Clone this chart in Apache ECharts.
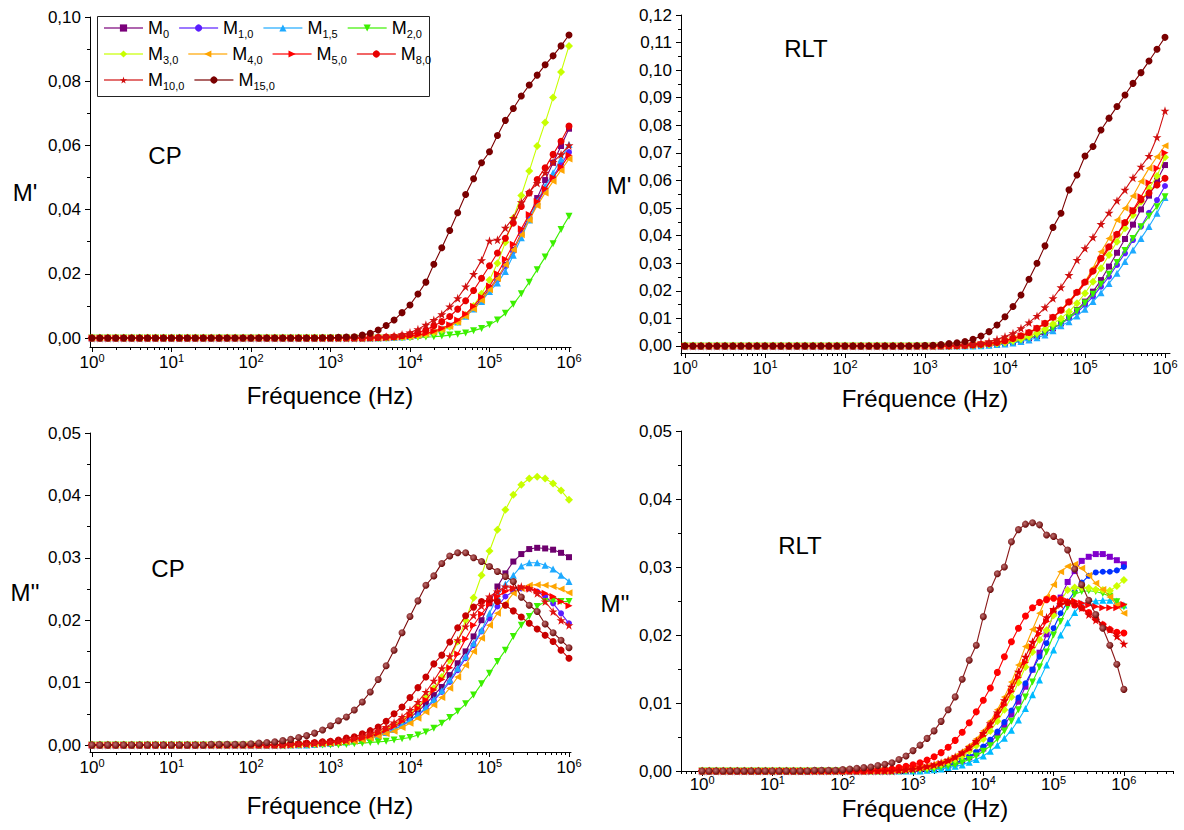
<!DOCTYPE html>
<html><head><meta charset="utf-8">
<script src="https://cdn.jsdelivr.net/npm/echarts@6/dist/echarts.min.js"></script>
<style>html,body{margin:0;padding:0;background:#fff}#c{width:1184px;height:830px}</style>
</head><body><div id="c"></div>
<script>
// ---------------- DATA ----------------
const FREQ = [1,1.259,1.585,1.995,2.512,3.162,3.981,5.012,6.31,7.943,
10,12.59,15.85,19.95,25.12,31.62,39.81,50.12,63.1,79.43,
100,125.9,158.5,199.5,251.2,316.2,398.1,501.2,631,794.3,
1000,1259,1585,1995,2512,3162,3981,5012,6310,7943,
10000,12590,15850,19950,25120,31620,39810,50120,63100,79430,
100000,125900,158500,199500,251200,316200,398100,501200,631000,794300,1000000];

const SERIES_NAMES = ['M0','M1,0','M1,5','M2,0','M3,0','M4,0','M5,0','M8,0','M10,0','M15,0'];

const X_LABELS = [1,10,100,1000,10000,100000,1000000];
const X_MINOR = [0.5,0.6,0.7,0.8,0.9,2,3,4,5,6,7,8,9,20,30,40,50,60,70,80,90,
200,300,400,500,600,700,800,900,2000,3000,4000,5000,6000,7000,8000,9000,
20000,30000,40000,50000,60000,70000,80000,90000,200000,300000,400000,500000,600000,700000,800000,900000,
2000000,3000000,4000000,5000000];
const Y_LABELS_1 = [0,0.02,0.04,0.06,0.08,0.10];
const Y_MINOR_1 = [0.01,0.03,0.05,0.07,0.09];
const Y_LABELS_2 = [0,0.01,0.02,0.03,0.04,0.05,0.06,0.07,0.08,0.09,0.10,0.11,0.12];
const Y_MINOR_2 = [0.005,0.015,0.025,0.035,0.045,0.055,0.065,0.075,0.085,0.095,0.105,0.115];
const Y_LABELS_34 = [0,0.01,0.02,0.03,0.04,0.05];
const Y_MINOR_34 = [0.005,0.015,0.025,0.035,0.045];

// Panel 1 : M' (CP)
const cpRe_M0 = [0,0,0,0,0,0,0,0,0,0, 0,0,0,0,0,0,0,0,0,0, 0,0,0,0,0,0,0,0,0,0,
0,0,0,0,0,0,0,0.0001,0.0002,0.0003,
0.0005,0.0008,0.0012,0.0018,0.0027,0.0038,0.0051,0.0070,0.0093,0.0121,
0.0155,0.0186,0.0228,0.0275,0.0327,0.0379,0.0436,0.0492,0.0546,0.0598,0.0652];
const cpRe_M1_0 = [0,0,0,0,0,0,0,0,0,0, 0,0,0,0,0,0,0,0,0,0, 0,0,0,0,0,0,0,0,0,0,
0,0,0,0,0,0,0,0.0001,0.0002,0.0003,
0.0005,0.0008,0.0013,0.0019,0.0027,0.0038,0.0051,0.0069,0.0091,0.0117,
0.0150,0.0181,0.0223,0.0270,0.0322,0.0371,0.0418,0.0463,0.0504,0.0541,0.0579];
const cpRe_M1_5 = [0,0,0,0,0,0,0,0,0,0, 0,0,0,0,0,0,0,0,0,0, 0,0,0,0,0,0,0,0,0,0,
0,0,0,0,0,0,0,0.0001,0.0002,0.0003,
0.0005,0.0008,0.0013,0.0019,0.0027,0.0038,0.0050,0.0068,0.0090,0.0114,
0.0145,0.0171,0.0207,0.0258,0.0312,0.0368,0.0426,0.0473,0.0515,0.0558,0.0603];
const cpRe_M2_0 = [0,0,0,0,0,0,0,0,0,0, 0,0,0,0,0,0,0,0,0,0, 0,0,0,0,0,0,0,0,0,0,
0,0,0,0,0,0,0,0,0.0001,0.0001,
0.0001,0.0002,0.0003,0.0004,0.0006,0.0009,0.0012,0.0016,0.0023,0.0030,
0.0041,0.0056,0.0077,0.0105,0.0138,0.0174,0.0213,0.0252,0.0294,0.0338,0.0379];
const cpRe_M3_0 = [0,0,0,0,0,0,0,0,0,0, 0,0,0,0,0,0,0,0,0,0, 0,0,0,0,0,0,0,0,0,0,
0,0,0,0,0,0,0,0.0001,0.0002,0.0003,
0.0004,0.0007,0.0011,0.0017,0.0025,0.0035,0.0051,0.0072,0.0100,0.0138,
0.0181,0.0233,0.0298,0.0374,0.0444,0.0520,0.0598,0.0671,0.0749,0.0829,0.0910];
const cpRe_M4_0 = [0,0,0,0,0,0,0,0,0,0, 0,0,0,0,0,0,0,0,0,0, 0,0,0,0,0,0,0,0,0,0,
0,0,0,0,0,0,0,0.0001,0.0002,0.0003,
0.0005,0.0008,0.0013,0.0019,0.0027,0.0037,0.0050,0.0068,0.0090,0.0117,
0.0150,0.0185,0.0228,0.0275,0.0322,0.0368,0.0412,0.0452,0.0488,0.0522,0.0558];
const cpRe_M5_0 = [0,0,0,0,0,0,0,0,0,0, 0,0,0,0,0,0,0,0,0,0, 0,0,0,0,0,0,0,0,0,0,
0,0,0,0,0,0,0,0.0001,0.0002,0.0004,
0.0006,0.0009,0.0014,0.0021,0.0030,0.0041,0.0056,0.0075,0.0099,0.0128,
0.0162,0.0200,0.0245,0.0292,0.0340,0.0385,0.0425,0.0465,0.0500,0.0533,0.0569];
const cpRe_M8_0 = [0,0,0,0,0,0,0,0,0,0, 0,0,0,0,0,0,0,0,0,0, 0,0,0,0,0,0,0,0,0,0,
0,0,0,0,0,0.0001,0.0002,0.0003,0.0004,0.0007,
0.0011,0.0017,0.0025,0.0038,0.0051,0.0067,0.0090,0.0116,0.0148,0.0186,
0.0225,0.0265,0.0311,0.0358,0.0410,0.0452,0.0494,0.0530,0.0572,0.0613,0.0660];
const cpRe_M10_0 = [0,0,0,0,0,0,0,0,0,0, 0,0,0,0,0,0,0,0,0,0, 0,0,0,0,0,0,0,0,0,0,
0,0,0,0,0,0.0001,0.0002,0.0004,0.0007,0.0011,
0.0017,0.0027,0.0041,0.0056,0.0074,0.0098,0.0124,0.0160,0.0199,0.0242,
0.0303,0.0306,0.0343,0.0374,0.0423,0.0454,0.0483,0.0515,0.0548,0.0572,0.0600];
const cpRe_M15_0 = [0,0,0,0,0,0,0,0,0,0, 0,0,0,0,0,0,0,0,0,0,
0,0,0,0,0,0,0,0,0,0.0001,
0.0001,0.0002,0.0003,0.0004,0.0009,0.0015,0.0025,0.0039,0.0056,0.0079,
0.0103,0.0137,0.0174,0.0230,0.0281,0.0335,0.0390,0.0447,0.0496,0.0546,
0.0580,0.0631,0.0678,0.0715,0.0754,0.0788,0.0819,0.0851,0.0879,0.0910,0.0944];

// Panel 2 : M' (RLT)
const rltRe_M0 = [0,0,0,0,0,0,0,0,0,0, 0,0,0,0,0,0,0,0,0,0, 0,0,0,0,0,0,0,0,0,0,
0,0,0,0,0,0,0.0001,0.0002,0.0004,0.0006,
0.0009,0.0014,0.0020,0.0028,0.0036,0.0048,0.0064,0.0082,0.0104,0.0131,
0.0161,0.0197,0.0239,0.0288,0.0338,0.0388,0.0440,0.0495,0.0545,0.0600,0.0656];
const rltRe_M1_0 = [0,0,0,0,0,0,0,0,0,0, 0,0,0,0,0,0,0,0,0,0, 0,0,0,0,0,0,0,0,0,0,
0,0,0,0,0,0,0.0001,0.0002,0.0004,0.0007,
0.0010,0.0015,0.0021,0.0029,0.0038,0.0050,0.0064,0.0080,0.0100,0.0121,
0.0149,0.0179,0.0215,0.0251,0.0294,0.0336,0.0384,0.0433,0.0483,0.0529,0.0580];
const rltRe_M1_5 = [0,0,0,0,0,0,0,0,0,0, 0,0,0,0,0,0,0,0,0,0, 0,0,0,0,0,0,0,0,0,0,
0,0,0,0,0,0,0,0.0001,0.0003,0.0005,
0.0007,0.0011,0.0016,0.0022,0.0030,0.0040,0.0055,0.0073,0.0088,0.0109,
0.0133,0.0161,0.0193,0.0227,0.0264,0.0306,0.0348,0.0390,0.0433,0.0481,0.0538];
const rltRe_M2_0 = [0,0,0,0,0,0,0,0,0,0, 0,0,0,0,0,0,0,0,0,0, 0,0,0,0,0,0,0,0,0,0,
0,0,0,0,0,0,0,0.0002,0.0004,0.0007,
0.0010,0.0015,0.0021,0.0029,0.0039,0.0051,0.0065,0.0082,0.0102,0.0127,
0.0156,0.0188,0.0224,0.0260,0.0303,0.0346,0.0390,0.0432,0.0470,0.0505,0.0541];
const rltRe_M3_0 = [0,0,0,0,0,0,0,0,0,0, 0,0,0,0,0,0,0,0,0,0, 0,0,0,0,0,0,0,0,0,0,
0,0,0,0,0,0.0001,0.0002,0.0004,0.0006,0.0009,
0.0013,0.0019,0.0025,0.0034,0.0046,0.0061,0.0080,0.0100,0.0124,0.0155,
0.0191,0.0233,0.0282,0.0330,0.0378,0.0427,0.0475,0.0523,0.0572,0.0616,0.0684];
const rltRe_M4_0 = [0,0,0,0,0,0,0,0,0,0, 0,0,0,0,0,0,0,0,0,0, 0,0,0,0,0,0,0,0,0,0,
0,0,0,0,0.0001,0.0002,0.0004,0.0006,0.0009,0.0013,
0.0019,0.0028,0.0036,0.0048,0.0064,0.0082,0.0103,0.0131,0.0161,0.0197,
0.0233,0.0282,0.0342,0.0390,0.0457,0.0499,0.0544,0.0596,0.0644,0.0686,0.0726];
const rltRe_M5_0 = [0,0,0,0,0,0,0,0,0,0, 0,0,0,0,0,0,0,0,0,0, 0,0,0,0,0,0,0,0,0,0,
0,0,0,0,0.0001,0.0002,0.0004,0.0006,0.0009,0.0013,
0.0019,0.0027,0.0036,0.0048,0.0064,0.0082,0.0103,0.0128,0.0157,0.0191,
0.0227,0.0266,0.0312,0.0354,0.0402,0.0445,0.0493,0.0541,0.0592,0.0644,0.0701];
const rltRe_M8_0 = [0,0,0,0,0,0,0,0,0,0, 0,0,0,0,0,0,0,0,0,0, 0,0,0,0,0,0,0,0,0,0,
0,0,0,0,0.0001,0.0002,0.0004,0.0006,0.0009,0.0013,
0.0019,0.0027,0.0037,0.0049,0.0064,0.0082,0.0104,0.0130,0.0160,0.0195,
0.0232,0.0272,0.0318,0.0360,0.0405,0.0448,0.0490,0.0530,0.0555,0.0584,0.0608];
const rltRe_M10_0 = [0,0,0,0,0,0,0,0,0,0, 0,0,0,0,0,0,0,0,0,0, 0,0,0,0,0,0,0,0,0,0,
0,0,0.0001,0.0002,0.0003,0.0005,0.0007,0.0011,0.0016,0.0024,
0.0034,0.0046,0.0064,0.0085,0.0109,0.0140,0.0173,0.0213,0.0257,0.0312,
0.0354,0.0394,0.0442,0.0483,0.0527,0.0566,0.0610,0.0650,0.0689,0.0757,0.0853];
const rltRe_M15_0 = [0,0,0,0,0,0,0,0,0,0, 0,0,0,0,0,0,0,0,0,0,
0,0,0,0,0,0,0,0,0,0.0001,
0.0002,0.0003,0.0005,0.0009,0.0012,0.0016,0.0024,0.0036,0.0052,0.0076,
0.0106,0.0143,0.0185,0.0242,0.0300,0.0363,0.0430,0.0481,0.0566,0.0620,
0.0689,0.0723,0.0783,0.0826,0.0868,0.0910,0.0952,0.0991,0.1033,0.1076,0.1119];

// Panel 3 : M'' (CP)
const cpIm_M0 = [0,0,0,0,0,0,0,0,0,0, 0,0,0,0,0,0,0,0,0,0,
0,0,0,0,0,0,0,0.0001,0.0002,0.0002,
0.0003,0.0004,0.0006,0.0008,0.0010,0.0013,0.0017,0.0022,0.0028,0.0035,
0.0044,0.0054,0.0066,0.0080,0.0093,0.0112,0.0131,0.0150,0.0174,0.0200,
0.0227,0.0254,0.0275,0.0294,0.0306,0.0314,0.0316,0.0315,0.0313,0.0308,0.0301];
const cpIm_M1_0 = [0,0,0,0,0,0,0,0,0,0, 0,0,0,0,0,0,0,0,0,0,
0,0,0,0,0,0,0,0,0.0001,0.0002,
0.0003,0.0004,0.0005,0.0007,0.0009,0.0011,0.0015,0.0019,0.0025,0.0031,
0.0039,0.0048,0.0058,0.0071,0.0085,0.0101,0.0120,0.0139,0.0160,0.0182,
0.0203,0.0222,0.0238,0.0246,0.0251,0.0251,0.0246,0.0238,0.0227,0.0211,0.0195];
const cpIm_M1_5 = [0,0,0,0,0,0,0,0,0,0, 0,0,0,0,0,0,0,0,0,0,
0,0,0,0,0,0,0,0,0.0001,0.0002,
0.0003,0.0004,0.0005,0.0007,0.0009,0.0012,0.0015,0.0020,0.0025,0.0032,
0.0040,0.0049,0.0060,0.0073,0.0087,0.0104,0.0123,0.0142,0.0163,0.0184,
0.0211,0.0238,0.0258,0.0272,0.0287,0.0292,0.0292,0.0288,0.0282,0.0272,0.0262];
const cpIm_M2_0 = [0,0,0,0,0,0,0,0,0,0, 0,0,0,0,0,0,0,0,0,0, 0,0,0,0,0,0,0,0,0,0,
0,0,0.0001,0.0002,0.0003,0.0004,0.0005,0.0006,0.0008,0.0010,
0.0012,0.0016,0.0021,0.0027,0.0035,0.0044,0.0054,0.0066,0.0080,0.0098,
0.0115,0.0134,0.0152,0.0174,0.0192,0.0206,0.0222,0.0230,0.0231,0.0230,0.0230];
const cpIm_M3_0 = [0,0,0,0,0,0,0,0,0,0, 0,0,0,0,0,0,0,0,0,0,
0,0,0,0,0,0,0.0001,0.0002,0.0002,0.0003,
0.0004,0.0005,0.0007,0.0009,0.0012,0.0016,0.0020,0.0026,0.0032,0.0040,
0.0050,0.0061,0.0076,0.0091,0.0109,0.0136,0.0166,0.0200,0.0236,0.0272,
0.0311,0.0345,0.0377,0.0401,0.0417,0.0427,0.0430,0.0427,0.0419,0.0408,0.0393];
const cpIm_M4_0 = [0,0,0,0,0,0,0,0,0,0, 0,0,0,0,0,0,0,0,0,0,
0,0,0,0,0,0,0,0,0.0001,0.0002,
0.0003,0.0004,0.0005,0.0006,0.0008,0.0011,0.0014,0.0018,0.0022,0.0028,
0.0035,0.0043,0.0053,0.0064,0.0076,0.0091,0.0109,0.0128,0.0150,0.0171,
0.0192,0.0211,0.0227,0.0243,0.0251,0.0256,0.0257,0.0256,0.0254,0.0250,0.0244];
const cpIm_M5_0 = [0,0,0,0,0,0,0,0,0,0, 0,0,0,0,0,0,0,0,0,0,
0,0,0,0,0,0,0.0001,0.0002,0.0002,0.0003,
0.0004,0.0005,0.0007,0.0009,0.0011,0.0015,0.0019,0.0024,0.0030,0.0038,
0.0048,0.0059,0.0072,0.0088,0.0105,0.0124,0.0146,0.0170,0.0192,0.0210,
0.0226,0.0238,0.0246,0.0251,0.0252,0.0251,0.0247,0.0243,0.0238,0.0230,0.0223];
const cpIm_M8_0 = [0,0,0,0,0,0,0,0,0,0, 0,0,0,0,0,0,0,0,0,0,
0,0,0,0,0.0001,0.0002,0.0002,0.0003,0.0004,0.0005,
0.0006,0.0008,0.0011,0.0013,0.0018,0.0023,0.0029,0.0038,0.0050,0.0061,
0.0076,0.0092,0.0109,0.0130,0.0144,0.0165,0.0188,0.0207,0.0221,0.0230,
0.0233,0.0230,0.0224,0.0215,0.0205,0.0195,0.0186,0.0176,0.0166,0.0152,0.0139];
const cpIm_M10_0 = [0,0,0,0,0,0,0,0,0,0, 0,0,0,0,0,0,0,0,0,0,
0,0,0,0,0,0.0001,0.0002,0.0002,0.0003,0.0004,
0.0005,0.0006,0.0008,0.0011,0.0014,0.0018,0.0023,0.0029,0.0036,0.0045,
0.0056,0.0069,0.0085,0.0103,0.0123,0.0142,0.0168,0.0190,0.0208,0.0223,
0.0238,0.0246,0.0254,0.0252,0.0254,0.0251,0.0243,0.0230,0.0214,0.0200,0.0192];
const cpIm_M15_0 = [0,0,0,0,0,0,0,0,0,0,
0,0,0,0,0,0.0001,0.0001,0.0001,0.0001,0.0001,
0.0002,0.0003,0.0004,0.0005,0.0007,0.0009,0.0012,0.0015,0.0019,0.0024,
0.0031,0.0039,0.0045,0.0056,0.0069,0.0085,0.0105,0.0127,0.0152,0.0180,
0.0206,0.0231,0.0256,0.0271,0.0291,0.0303,0.0308,0.0308,0.0300,0.0294,
0.0286,0.0278,0.0270,0.0262,0.0237,0.0224,0.0214,0.0194,0.0180,0.0168,0.0156];

// Panel 4 : M'' (RLT)
const rltIm_M0 = [0,0,0,0,0,0,0,0,0,0, 0,0,0,0,0,0,0,0,0,0, 0,0,0,0,0,0,0,0,0,0,
0.0001,0.0002,0.0003,0.0004,0.0006,0.0008,0.0011,0.0015,0.0020,0.0026,
0.0033,0.0042,0.0053,0.0067,0.0083,0.0102,0.0124,0.0149,0.0174,0.0201,
0.0232,0.0255,0.0278,0.0294,0.0309,0.0315,0.0319,0.0319,0.0315,0.0310,0.0304];
const rltIm_M1_0 = [0,0,0,0,0,0,0,0,0,0, 0,0,0,0,0,0,0,0,0,0, 0,0,0,0,0,0,0,0,0,0,
0.0001,0.0002,0.0003,0.0004,0.0006,0.0009,0.0012,0.0016,0.0021,0.0028,
0.0036,0.0046,0.0058,0.0072,0.0089,0.0108,0.0129,0.0149,0.0168,0.0188,
0.0210,0.0232,0.0249,0.0264,0.0277,0.0287,0.0292,0.0293,0.0293,0.0295,0.0300];
const rltIm_M1_5 = [0,0,0,0,0,0,0,0,0,0, 0,0,0,0,0,0,0,0,0,0, 0,0,0,0,0,0,0,0,0,0,
0,0,0.0001,0.0002,0.0003,0.0005,0.0007,0.0009,0.0013,0.0017,
0.0022,0.0029,0.0038,0.0048,0.0060,0.0075,0.0092,0.0112,0.0134,0.0156,
0.0178,0.0200,0.0218,0.0233,0.0246,0.0249,0.0250,0.0251,0.0251,0.0250,0.0244];
const rltIm_M2_0 = [0,0,0,0,0,0,0,0,0,0, 0,0,0,0,0,0,0,0,0,0, 0,0,0,0,0,0,0,0,0,0,
0,0.0001,0.0002,0.0003,0.0005,0.0007,0.0009,0.0013,0.0017,0.0022,
0.0029,0.0037,0.0047,0.0059,0.0073,0.0090,0.0109,0.0131,0.0153,0.0175,
0.0200,0.0220,0.0241,0.0260,0.0264,0.0265,0.0264,0.0261,0.0257,0.0249,0.0241];
const rltIm_M3_0 = [0,0,0,0,0,0,0,0,0,0, 0,0,0,0,0,0,0,0,0,0,
0,0,0,0,0,0,0,0,0.0001,0.0002,
0.0003,0.0004,0.0005,0.0007,0.0010,0.0013,0.0017,0.0022,0.0029,0.0037,
0.0047,0.0059,0.0073,0.0090,0.0109,0.0130,0.0153,0.0175,0.0193,0.0207,
0.0229,0.0251,0.0266,0.0270,0.0270,0.0269,0.0267,0.0266,0.0265,0.0272,0.0281];
const rltIm_M4_0 = [0,0,0,0,0,0,0,0,0,0, 0,0,0,0,0,0,0,0,0,0,
0,0,0,0,0,0,0,0.0001,0.0002,0.0003,
0.0004,0.0005,0.0007,0.0010,0.0013,0.0017,0.0022,0.0029,0.0037,0.0047,
0.0059,0.0073,0.0090,0.0109,0.0131,0.0156,0.0183,0.0208,0.0232,0.0256,
0.0274,0.0293,0.0301,0.0304,0.0298,0.0288,0.0276,0.0267,0.0256,0.0244,0.0232];
const rltIm_M5_0 = [0,0,0,0,0,0,0,0,0,0, 0,0,0,0,0,0,0,0,0,0,
0,0,0,0,0,0,0,0,0.0001,0.0002,
0.0003,0.0004,0.0006,0.0008,0.0011,0.0014,0.0019,0.0025,0.0032,0.0041,
0.0052,0.0065,0.0080,0.0097,0.0117,0.0138,0.0160,0.0182,0.0202,0.0220,
0.0235,0.0245,0.0250,0.0250,0.0247,0.0244,0.0242,0.0240,0.0240,0.0240,0.0245];
const rltIm_M8_0 = [0,0,0,0,0,0,0,0,0,0, 0,0,0,0,0,0,0,0,0,0,
0,0,0,0,0.0001,0.0001,0.0002,0.0003,0.0005,0.0007,
0.0009,0.0012,0.0016,0.0021,0.0027,0.0035,0.0045,0.0057,0.0071,0.0087,
0.0104,0.0122,0.0145,0.0168,0.0190,0.0210,0.0228,0.0240,0.0248,0.0252,
0.0254,0.0252,0.0248,0.0244,0.0240,0.0233,0.0224,0.0215,0.0208,0.0204,0.0203];
const rltIm_M10_0 = [0,0,0,0,0,0,0,0,0,0, 0,0,0,0,0,0,0,0,0,0,
0,0,0,0,0,0,0,0,0.0001,0.0002,
0.0003,0.0005,0.0007,0.0009,0.0012,0.0016,0.0021,0.0027,0.0035,0.0044,
0.0056,0.0070,0.0086,0.0104,0.0124,0.0146,0.0168,0.0190,0.0210,0.0226,
0.0238,0.0245,0.0248,0.0246,0.0240,0.0230,0.0222,0.0215,0.0208,0.0198,0.0187];
const rltIm_M15_0 = [0,0,0,0,0,0,0,0,0,0,
0,0,0,0,0,0,0.0001,0.0001,0.0001,0.0001,
0.0002,0.0003,0.0004,0.0005,0.0006,0.0008,0.0010,0.0012,0.0017,0.0022,
0.0030,0.0038,0.0048,0.0059,0.0073,0.0090,0.0109,0.0135,0.0163,0.0185,
0.0227,0.0267,0.0290,0.0300,0.0337,0.0355,0.0363,0.0365,0.0362,0.0347,
0.0345,0.0337,0.0325,0.0297,0.0274,0.0251,0.0230,0.0210,0.0185,0.0157,0.0120];

// ---------------- STYLE ----------------
const FONT = '"Liberation Sans", Arial, sans-serif';
const STAR = 'path://M50,0 L61,35 L98,35 L68,57 L79,91 L50,70 L21,91 L32,57 L2,35 L39,35 Z';
const MARKERS = [
  {symbol:'rect', rot:0, size:6},
  {symbol:'circle', rot:0, size:6},
  {symbol:'triangle', rot:0, size:7},
  {symbol:'triangle', rot:180, size:7},
  {symbol:'diamond', rot:0, size:8},
  {symbol:'triangle', rot:90, size:7},
  {symbol:'triangle', rot:-90, size:7},
  {symbol:'circle', rot:0, size:7},
  {symbol:STAR, rot:0, size:9},
  {symbol:'circle', rot:0, size:7}
];
const COLORS_A = ['#7A007A','#5A1EFF','#1EAAFF','#3CF000','#C8FF00','#FFA500','#FF0000','#E80000','#D01010','#7A0000'];
const COLORS_C = ['#6E006E','#5A1EFF','#1EAAFF','#3CF000','#C8FF00','#FFA500','#FF0000','#C80000','#E01010','#7A0A0A'];
const COLORS_B = ['#8000CC','#0030FF','#00BBFF','#40F000','#CCFF00','#FFA500','#FF0000','#FF0000','#E00000','#8B1A1A'];

const PANELS = [
  {grid:{left:90, top:17, width:481, height:330}, xmin:0.944, xmax:1.06e6, ymin:-0.0028, ymax:0.10,
   yLab:Y_LABELS_1, yMin:Y_MINOR_1, colors:COLORS_A, sphere:false, labMargin:5,
   data:[cpRe_M0,cpRe_M1_0,cpRe_M1_5,cpRe_M2_0,cpRe_M3_0,cpRe_M4_0,cpRe_M5_0,cpRe_M8_0,cpRe_M10_0,cpRe_M15_0]},
  {grid:{left:681, top:15, width:489, height:338}, xmin:0.891, xmax:1.155e6, ymin:-0.00254, ymax:0.12,
   yLab:Y_LABELS_2, yMin:Y_MINOR_2, colors:COLORS_A, sphere:false, labMargin:5,
   data:[rltRe_M0,rltRe_M1_0,rltRe_M1_5,rltRe_M2_0,rltRe_M3_0,rltRe_M4_0,rltRe_M5_0,rltRe_M8_0,rltRe_M10_0,rltRe_M15_0]},
  {grid:{left:90, top:433, width:481, height:319}, xmin:0.944, xmax:1.06e6, ymin:-0.00112, ymax:0.05,
   yLab:Y_LABELS_34, yMin:Y_MINOR_34, colors:COLORS_C, sphere:true, labMargin:5,
   data:[cpIm_M0,cpIm_M1_0,cpIm_M1_5,cpIm_M2_0,cpIm_M3_0,cpIm_M4_0,cpIm_M5_0,cpIm_M8_0,cpIm_M10_0,cpIm_M15_0]},
  {grid:{left:681, top:431, width:492, height:340}, xmin:0.5, xmax:5e6, ymin:0, ymax:0.05,
   yLab:Y_LABELS_34, yMin:Y_MINOR_34, colors:COLORS_B, sphere:true, labMargin:3,
   data:[rltIm_M0,rltIm_M1_0,rltIm_M1_5,rltIm_M2_0,rltIm_M3_0,rltIm_M4_0,rltIm_M5_0,rltIm_M8_0,rltIm_M10_0,rltIm_M15_0]}
];

const grids = [], xAxes = [], yAxes = [], series = [];
const lineBlack = {show:true, onZero:false, lineStyle:{color:'#000', width:1}};
PANELS.forEach((P, p) => {
  grids.push(P.grid);
  xAxes.push({type:'log', logBase:10, gridIndex:p, min:P.xmin, max:P.xmax, position:'bottom',
    axisLine:lineBlack, splitLine:{show:false},
    axisTick:{show:true, inside:false, length:5, customValues:X_LABELS, lineStyle:{color:'#000'}},
    axisLabel:{show:true, margin:P.labMargin, customValues:X_LABELS, color:'#000', fontFamily:FONT,
      formatter:(v)=>'{b|10}{s|' + Math.round(Math.log10(v)) + '}',
      rich:{b:{fontSize:17, fontFamily:FONT, color:'#000'}, s:{fontSize:11, fontFamily:FONT, color:'#000', padding:[0,0,9,0]}}}
  });
  xAxes.push({type:'log', logBase:10, gridIndex:p, min:P.xmin, max:P.xmax, position:'bottom',
    axisLine:{show:false, onZero:false}, splitLine:{show:false}, axisLabel:{show:false},
    axisTick:{show:true, inside:false, length:3, customValues:X_MINOR, lineStyle:{color:'#000'}}
  });
  yAxes.push({type:'value', gridIndex:p, min:P.ymin, max:P.ymax, position:'left',
    axisLine:lineBlack, splitLine:{show:false},
    axisTick:{show:true, inside:false, length:5, customValues:P.yLab, lineStyle:{color:'#000'}},
    axisLabel:{show:true, margin:9, customValues:P.yLab, color:'#000', fontSize:17, fontFamily:FONT,
      formatter:(v)=>v.toFixed(2).replace('.', ',')}
  });
  yAxes.push({type:'value', gridIndex:p, min:P.ymin, max:P.ymax, position:'left',
    axisLine:{show:false, onZero:false}, splitLine:{show:false}, axisLabel:{show:false},
    axisTick:{show:true, inside:false, length:3, customValues:P.yMin, lineStyle:{color:'#000'}}
  });
  P.data.forEach((arr, k) => {
    const m = MARKERS[k];
    const col = P.colors[k];
    let itemColor = col;
    if (P.sphere && k === 9) {
      itemColor = {type:'radial', x:0.4, y:0.4, r:0.6, colorStops:[{offset:0, color:'#C07070'},{offset:1, color:'#6A0808'}]};
    }
    series.push({
      type:'line', name:SERIES_NAMES[k], xAxisIndex:2*p, yAxisIndex:2*p,
      data: FREQ.map((f, i) => [f, arr[i]]),
      symbol:m.symbol, symbolRotate:m.rot, symbolSize:m.size, showSymbol:true,
      lineStyle:{color:col, width:1.1}, itemStyle:{color:itemColor, borderWidth:0},
      emphasis:{disabled:true}, z:2+k*0.01
    });
  });
});

function legendRow(names, top) {
  return {
    data: names, left:103, top: top, orient:'horizontal', padding:0,
    itemWidth:39, itemHeight:9, itemGap:9, selectedMode:false,
    lineStyle:{width:2, opacity:0.6},
    formatter: (n) => '{m|M}{s|' + n.slice(1) + '}',
    textStyle:{color:'#000', fontFamily:FONT, padding:[0,0,0,0],
      rich:{m:{fontSize:18, fontFamily:FONT, color:'#000'}, s:{fontSize:11, fontFamily:FONT, color:'#000', padding:[11,0,0,0]}}}
  };
}

function txt(x, y, text, size) {
  return {type:'text', x:x, y:y, silent:true,
    style:{text:text, fill:'#000', font: size + 'px ' + FONT, textAlign:'center', textVerticalAlign:'middle'}};
}

const option = {
  animation:false,
  backgroundColor:'#fff',
  grid: grids, xAxis: xAxes, yAxis: yAxes, series: series,
  legend: [
    legendRow(['M0','M1,0','M1,5','M2,0'], 19),
    legendRow(['M3,0','M4,0','M5,0','M8,0'], 45),
    legendRow(['M10,0','M15,0'], 71)
  ],
  graphic: [
    {type:'rect', shape:{x:97.5, y:16.5, width:332, height:80}, style:{fill:'none', stroke:'#222', lineWidth:1}, silent:true},
    txt(25, 192, "M'", 24), txt(619, 185, "M'", 24),
    txt(25, 592, "M''", 24), txt(615, 603, "M''", 24),
    txt(330, 395, 'Fréquence (Hz)', 24), txt(925, 398, 'Fréquence (Hz)', 24),
    txt(330, 805, 'Fréquence (Hz)', 24), txt(925, 808, 'Fréquence (Hz)', 24),
    txt(165, 155, 'CP', 24), txt(806, 48, 'RLT', 24),
    txt(168, 568, 'CP', 24), txt(800, 545, 'RLT', 24)
  ]
};

const chart = echarts.init(document.getElementById('c'), null, {renderer:'svg', width:1184, height:830});
chart.setOption(option);
</script>
</body></html>
